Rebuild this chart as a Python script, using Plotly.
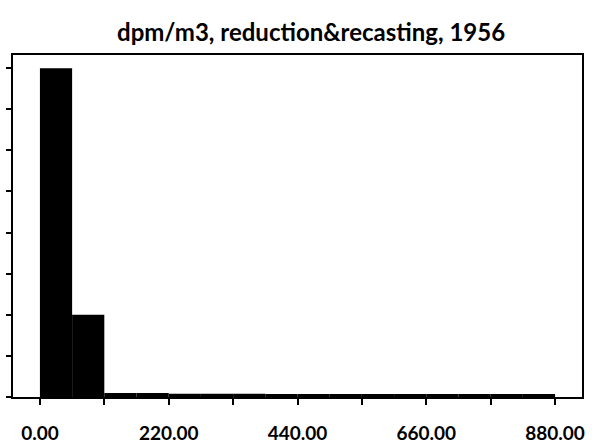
import plotly.graph_objects as go

title = "dpm/m3, reduction&recasting, 1956"
bin_left = [0, 55, 110, 165, 220, 275, 330, 385, 440, 495, 550, 605, 660, 715, 770, 825]
bin_width = 55
counts = [8.0, 2.0, 0.1, 0.1, 0.08, 0.08, 0.08, 0.07, 0.07, 0.07, 0.07, 0.07, 0.07, 0.07, 0.07, 0.07]
x_tick_vals = [0, 220, 440, 660, 880]
x_tick_text = ["0.00", "220.00", "440.00", "660.00", "880.00"]

fig = go.Figure(go.Bar(
    x=[b + bin_width / 2 for b in bin_left],
    y=counts,
    width=[bin_width] * len(bin_left),
    marker=dict(color="black", line=dict(width=0)),
))

fig.update_layout(
    width=604, height=446,
    margin=dict(l=13, r=22, t=55, b=49, autoexpand=False),
    paper_bgcolor="white", plot_bgcolor="white",
    showlegend=False,
    title=dict(text=title, x=0.515, xanchor="center", y=0.928, yanchor="middle",
               font=dict(family="Lato", size=24, color="black", weight="bold")),
    font=dict(family="Lato", color="black"),
)
fig.update_xaxes(
    range=[-46, 926],
    automargin=False,
    tickvals=x_tick_vals, ticktext=x_tick_text,
    ticks="outside", ticklen=6, tickwidth=1.5, tickcolor="black",
    minor=dict(dtick=110, tick0=0, ticks="outside", ticklen=6, tickwidth=1.5, tickcolor="black"),
    tickfont=dict(family="Lato", size=19, color="black", weight="bold"),
    ticklabelstandoff=12,
    showline=True, linecolor="black", linewidth=2, mirror=True,
    showgrid=False, zeroline=False,
)
fig.update_yaxes(
    range=[0, 8.32],
    automargin=False,
    dtick=1, tick0=0,
    ticks="outside", ticklen=5, tickwidth=1.5, tickcolor="black",
    showticklabels=False,
    showline=True, linecolor="black", linewidth=2, mirror=True,
    showgrid=False, zeroline=False,
)

fig.write_html("out.html", config={"displayModeBar": False},
               post_script="document.body.style.margin='0';document.body.style.overflow='hidden';")
